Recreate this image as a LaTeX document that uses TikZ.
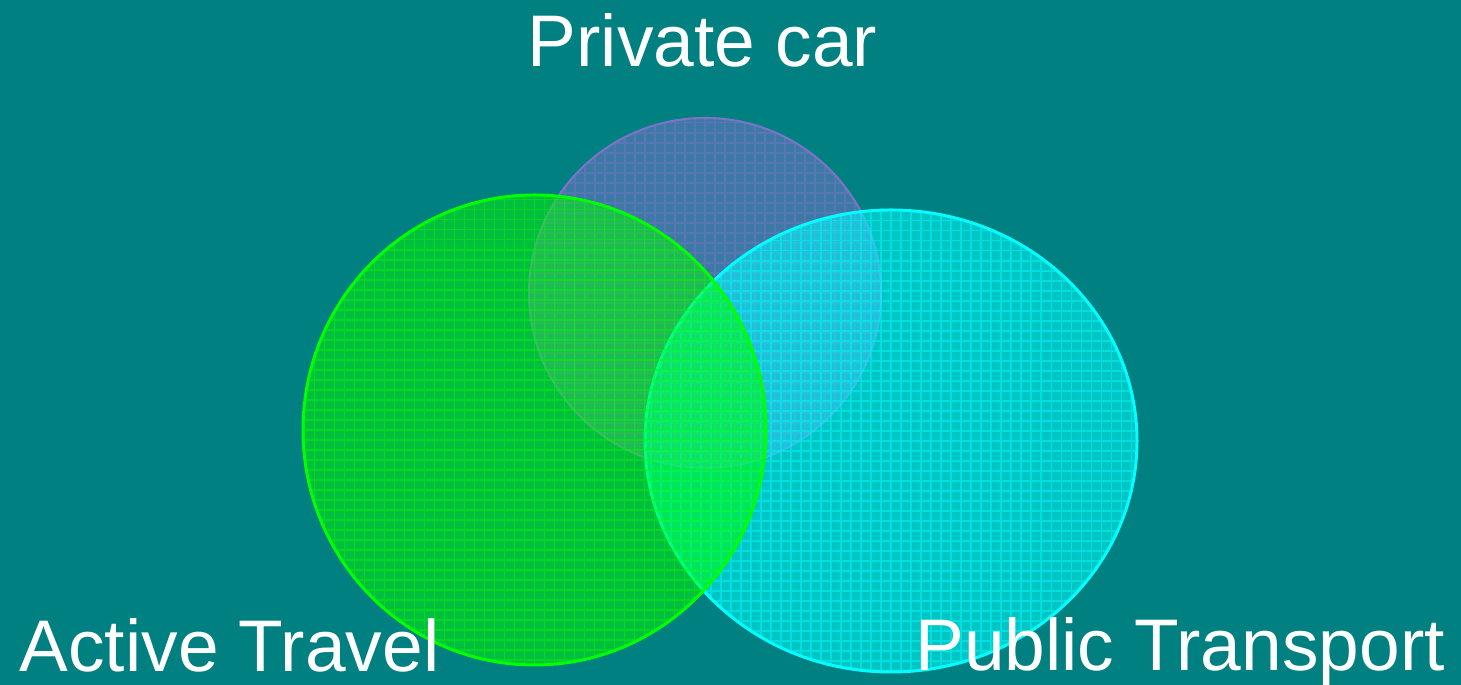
\documentclass[tikz,border=0pt]{standalone}
\usepackage{fontspec}
\setmainfont{Liberation Sans}
\usepackage{tikz}
\usetikzlibrary{shapes,fit,calc,positioning}
\definecolor{bgteal}{RGB}{0,128,128}
\definecolor{carblue}{RGB}{120,116,200}
\definecolor{activegreen}{RGB}{0,255,0}
\definecolor{publiccyan}{RGB}{0,255,255}
\tikzset{
  mode/.style={ellipse, inner sep=0pt, draw=#1, fill=#1, line width=0.85pt, fill opacity=0.5,
    path picture={\draw[#1, draw opacity=0.45, line width=0.3pt, step=0.1]
      (path picture bounding box.south west) grid (path picture bounding box.north east);}},
  modelabel/.style={text=white, inner sep=0pt, anchor=base, font=\fontsize{20.8}{25}\selectfont}
}
\begin{document}
\begin{tikzpicture}
			\fill[bgteal] (0,0) rectangle (14.61,6.85);
			\useasboundingbox (0,0) rectangle (14.61,6.85);
			% Define nodes
			\node[mode=carblue, line width=0.6pt, minimum width=3.52cm, minimum height=3.50cm] (car) at (7.05,3.92) {};
			\node[mode=publiccyan, fill opacity=0.55, minimum width=4.92cm, minimum height=4.62cm] (public) at (8.91,2.44) {};
			\node[mode=activegreen, minimum width=4.63cm, minimum height=4.70cm] (active) at (5.345,2.55) {};
			%%add labels
			\node[modelabel] (carlabel) at (7.025,6.18) {Private car};
			\node[modelabel] (activelabel) at (2.295,0.13) {Active Travel};
			\node[modelabel] (publiclabel) at (11.80,0.14) {Public Transport};
\end{tikzpicture}
\end{document}
